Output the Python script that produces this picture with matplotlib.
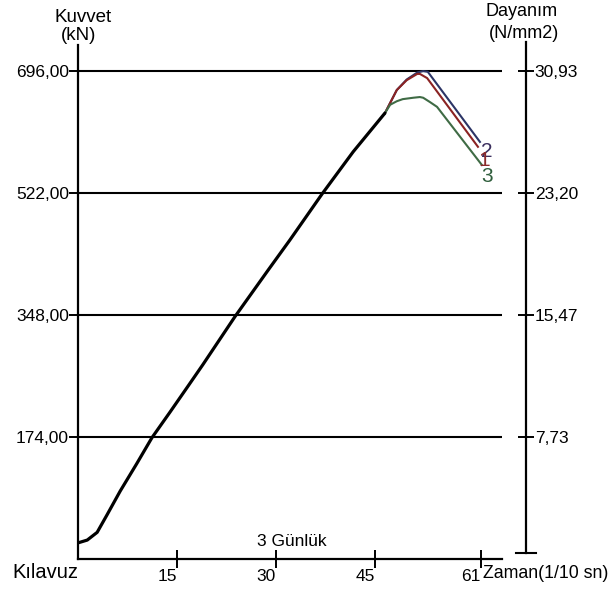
import matplotlib.pyplot as plt
from matplotlib.lines import Line2D

plt.rcParams['font.family'] = ['Liberation Sans', 'DejaVu Sans']

# ortak (siyah) egri, ayrilma noktasina kadar
common_x = [0, 1.4, 2.9, 4.4, 6.4, 8.9, 11.2, 13.9, 16.7, 18.9, 23.8, 28.8, 32.1, 37.0, 41.7, 46.5]
common_y = [23, 27, 38, 63, 97, 136, 173, 209, 247, 277, 346, 412, 455, 521, 581, 636]

# numune 1 (kirmizi)
s1_x = [46.5, 48.3, 49.8, 51.4, 51.8, 52.9, 60.6]
s1_y = [636, 669, 683, 692, 692, 686, 588]
# numune 2 (mavi)
s2_x = [46.5, 48.3, 49.8, 51.4, 52.3, 53.0, 60.9]
s2_y = [636, 669, 684, 694, 696, 695, 595]
# numune 3 (yesil)
s3_x = [46.5, 47.3, 48.3, 49.2, 50.8, 51.8, 52.3, 53.3, 54.4, 61.2]
s3_y = [636, 648, 653, 656, 658, 659, 658, 652, 645, 562]

kuvvet_ticks = [174, 348, 522, 696]
kuvvet_labels = ['174,00', '348,00', '522,00', '696,00']
dayanim_ticks = [7.73, 15.47, 23.20, 30.93]
dayanim_labels = ['7,73', '15,47', '23,20', '30,93']
zaman_ticks = [15, 30, 45, 61]
zaman_labels = ['15', '30', '45', '61']

ratio = 696 / 30.93
fs = 12.5

fig = plt.figure(figsize=(6.1, 5.89), dpi=100)
ax = fig.add_axes([78 / 610, 30 / 589, 424 / 610, 514 / 589])
ax.set_xlim(0, 424 / 6.6)
ax.set_ylim(0, 514 / 0.701)

for sp in ['top', 'right']:
    ax.spines[sp].set_visible(False)
ax.spines['left'].set_linewidth(1.6)
ax.spines['bottom'].set_linewidth(1.6)

ax.set_yticks(kuvvet_ticks)
ax.set_yticklabels(kuvvet_labels)
ax.set_xticks(zaman_ticks)
ax.set_xticklabels(zaman_labels)
ax.tick_params(axis='y', direction='inout', length=13, width=1.4, pad=0, labelsize=fs)
ax.tick_params(axis='x', direction='inout', length=13, width=1.4, pad=1, labelsize=fs)
# sayilar tikin soluna yaslanmis
for lab in ax.get_xticklabels():
    lab.set_ha('right')

# yatay cizgiler
for t in kuvvet_ticks:
    ax.axhline(t, color='black', lw=1.5, zorder=1)

# egriler
ax.plot(s2_x, s2_y, color='#2c3566', lw=1.5, zorder=3)
ax.plot(s1_x, s1_y, color='#8b2323', lw=1.5, zorder=3)
ax.plot(s3_x, s3_y, color='#3f6b45', lw=1.5, zorder=3)
ax.plot(common_x, common_y, color='black', lw=2.3, zorder=4,
        solid_joinstyle='round', solid_capstyle='round')

ax.text(62.0, 581, '2', color='#3b2f5e', fontsize=15, ha='center', va='center')
ax.text(61.6, 568, '1', color='#8b2a2a', fontsize=15, ha='center', va='center')
ax.text(62.0, 545, '3', color='#2f5e3c', fontsize=15, ha='center', va='center')

# sag eksen (dayanim)
ax2 = ax.twinx()
ax2.set_ylim(0, 514 / 0.701 / ratio)
for sp in ['top', 'left', 'bottom']:
    ax2.spines[sp].set_visible(False)
ax2.spines['right'].set_position(('outward', 17))
ax2.spines['right'].set_bounds(0.38, 32.77)
ax2.spines['right'].set_linewidth(1.6)
ax2.set_yticks(dayanim_ticks)
ax2.set_yticklabels(dayanim_labels)
ax2.tick_params(axis='y', direction='inout', length=11, width=1.4, pad=1, labelsize=fs)
fig.add_artist(Line2D([516 / 610, 536 / 610], [1 - 553 / 589, 1 - 553 / 589],
                      color='black', lw=1.5))

# yazilar
def ftext(x, y, s, **kw):
    fig.text(x / 610, 1 - y / 589, s, va='center', **kw)

ftext(83, 17, 'Kuvvet', ha='center', fontsize=13.5)
ftext(79, 36, '(kN)', ha='center', fontsize=13.5)
ftext(522, 12, 'Dayanım', ha='center', fontsize=13)
ftext(524, 33, '(N/mm2)', ha='center', fontsize=13)
ftext(12, 573, 'Kılavuz', ha='left', fontsize=14.5)
ftext(483, 573, 'Zaman(1/10 sn)', ha='left', fontsize=12.8)
ftext(292, 541, '3 Günlük', ha='center', fontsize=fs)

fig.savefig('out.png', dpi=100)
